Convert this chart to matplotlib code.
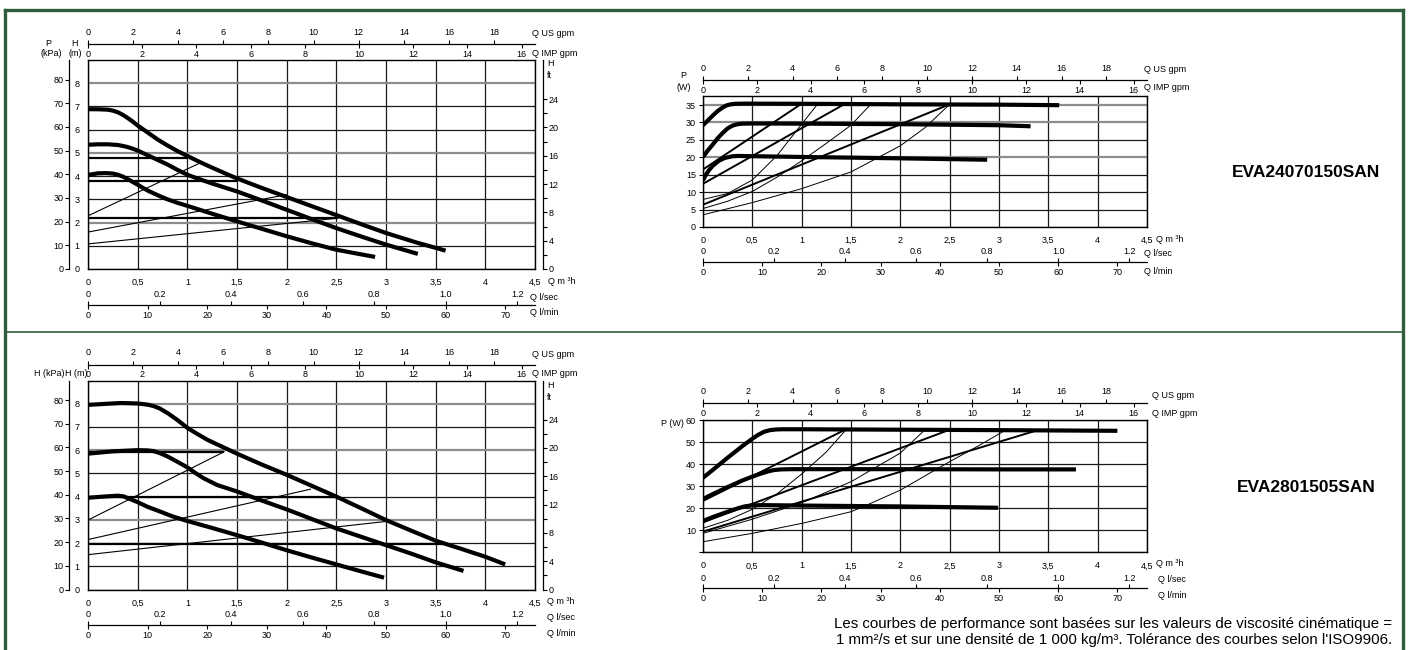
import matplotlib
matplotlib.use('Agg')
import matplotlib.pyplot as plt
from matplotlib import font_manager
from matplotlib.lines import Line2D

# pick a condensed face close to the original Helvetica Condensed
names = {f.name for f in font_manager.fontManager.ttflist}
NARROW = 'Liberation Sans Narrow' if 'Liberation Sans Narrow' in names else 'Liberation Sans'
plt.rcParams['font.family'] = [NARROW, 'DejaVu Sans']

# unit conversions from m3/h and m
US_GPM = 4.4029
IMP_GPM = 3.6662
LPS = 1 / 3.6
LPM = 1000 / 60
KPA = 9.80665
FT = 3.28084

# ---- shared scales
q_ticks = [0, 0.5, 1, 1.5, 2, 2.5, 3, 3.5, 4, 4.5]
q_labels = ['0', '0,5', '1', '1,5', '2', '2,5', '3', '3,5', '4', '4,5']
us_ticks = [0, 2, 4, 6, 8, 10, 12, 14, 16, 18]
imp_ticks = [0, 2, 4, 6, 8, 10, 12, 14, 16]
lps_ticks = [0, 0.2, 0.4, 0.6, 0.8, 1.0, 1.2]
lps_labels = ['0', '0.2', '0.4', '0.6', '0.8', '1.0', '1.2']
lpm_ticks = [0, 10, 20, 30, 40, 50, 60, 70]
h_ticks = [0, 1, 2, 3, 4, 5, 6, 7, 8]
kpa_ticks = [0, 10, 20, 30, 40, 50, 60, 70, 80]
ft_major = [0, 4, 8, 12, 16, 20, 24]
ft_minor = [2, 6, 10, 14, 18, 22]

# ---- EVA24070150SAN : head H (m) vs Q (m3/h), three speeds
h1_q = [[0, 0.1, 0.2, 0.25, 0.3, 0.35, 0.4, 0.45, 0.5, 0.6, 0.7, 0.8, 0.9, 1.0, 1.1, 1.2,
         1.3, 1.4, 1.5, 1.75, 2.0, 2.25, 2.5, 2.75, 3.0, 3.3, 3.6],
        [0, 0.1, 0.2, 0.3, 0.35, 0.4, 0.45, 0.5, 0.6, 0.7, 0.8, 0.9, 1.0, 1.1, 1.25, 1.5,
         1.75, 2.0, 2.25, 2.5, 2.75, 3.0, 3.32],
        [0, 0.1, 0.18, 0.25, 0.3, 0.35, 0.4, 0.45, 0.5, 0.55, 0.6, 0.7, 0.8, 0.9, 1.0, 1.25,
         1.5, 1.75, 2.0, 2.25, 2.5, 2.7, 2.89]]
h1_h = [[6.88, 6.88, 6.86, 6.82, 6.75, 6.64, 6.5, 6.35, 6.18, 5.88, 5.58, 5.32, 5.08, 4.87,
         4.66, 4.46, 4.27, 4.08, 3.9, 3.49, 3.1, 2.71, 2.32, 1.93, 1.55, 1.15, 0.79],
        [5.35, 5.37, 5.37, 5.34, 5.3, 5.25, 5.18, 5.1, 4.9, 4.7, 4.5, 4.27, 4.06, 3.9, 3.68,
         3.34, 2.95, 2.55, 2.15, 1.76, 1.4, 1.05, 0.65],
        [4.05, 4.12, 4.13, 4.11, 4.06, 3.98, 3.87, 3.75, 3.63, 3.5, 3.38, 3.18, 3.0, 2.85,
         2.72, 2.38, 2.05, 1.73, 1.41, 1.11, 0.83, 0.67, 0.52]]
h1_cp_h = [4.76, 3.77, 2.21]          # constant pressure settings
h1_cp_q = [1.0, 1.5, 2.52]
h1_pp_h0 = [2.29, 1.59, 1.08]         # proportional pressure settings
h1_pp_q1 = [1.11, 2.0, 2.52]
h1_pp_h1 = [4.53, 3.2, 2.19]

# ---- EVA24070150SAN : power P (W) vs Q (m3/h)
p1_q = [[0, 0.05, 0.1, 0.15, 0.2, 0.24, 0.28, 0.33, 0.43, 1.0, 2.0, 3.0, 3.61],
        [0, 0.05, 0.1, 0.15, 0.2, 0.25, 0.3, 0.35, 0.4, 0.5, 1.0, 2.0, 3.0, 3.32],
        [0, 0.03, 0.06, 0.1, 0.16, 0.22, 0.3, 0.36, 0.43, 1.0, 2.0, 2.88]]
p1_p = [[29.2, 30.6, 32.0, 33.3, 34.3, 34.9, 35.2, 35.35, 35.4, 35.35, 35.2, 35.1, 34.95],
        [20.1, 22.0, 23.7, 25.5, 27.0, 28.3, 29.1, 29.5, 29.65, 29.7, 29.65, 29.5, 29.2, 28.9],
        [13.4, 15.0, 16.3, 17.6, 19.0, 19.8, 20.3, 20.4, 20.35, 20.1, 19.7, 19.3]]
p1_mid_p0 = [16.5, 12.4, 6.4]
p1_mid_q1 = [0.99, 1.43, 2.5]
p1_mid_p1 = [35.2, 35.2, 35.2]
p1_thin_q = [[0, 0.25, 0.5, 0.75, 1.0, 1.16],
             [0, 0.25, 0.5, 0.75, 1.0, 1.25, 1.5, 1.7],
             [0, 0.5, 1.0, 1.5, 2.0, 2.25, 2.5]]
p1_thin_p = [[7.9, 9.6, 13.5, 20.5, 29.5, 35.2],
             [5.3, 7.4, 10.2, 14.3, 19.0, 24.0, 29.2, 35.2],
             [3.5, 7.0, 11.0, 15.8, 23.3, 28.5, 35.2]]

# ---- EVA2801505SAN : head H (m) vs Q (m3/h)
h2_q = [[0, 0.2, 0.33, 0.5, 0.6, 0.66, 0.72, 0.8, 0.9, 1.0, 1.1, 1.2, 1.35, 1.5, 1.75, 2.0,
         2.25, 2.5, 2.75, 3.0, 3.25, 3.5, 3.75, 4.0, 4.2],
        [0, 0.25, 0.5, 0.6, 0.66, 0.72, 0.8, 0.9, 1.0, 1.08, 1.16, 1.3, 1.5, 1.75, 2.0, 2.25,
         2.5, 2.75, 3.0, 3.25, 3.5, 3.78],
        [0, 0.15, 0.3, 0.36, 0.42, 0.5, 0.6, 0.73, 0.85, 1.0, 1.25, 1.5, 1.75, 2.0, 2.25,
         2.5, 2.75, 2.98]]
h2_h = [[7.95, 8.0, 8.03, 8.01, 7.96, 7.9, 7.8, 7.6, 7.3, 6.96, 6.7, 6.45, 6.15, 5.85, 5.38,
         4.94, 4.47, 4.0, 3.5, 2.99, 2.54, 2.1, 1.76, 1.41, 1.08],
        [5.85, 5.95, 6.0, 5.99, 5.96, 5.88, 5.73, 5.5, 5.26, 5.02, 4.8, 4.5, 4.22, 3.83, 3.45,
         3.04, 2.63, 2.27, 1.91, 1.55, 1.17, 0.8],
        [3.95, 4.0, 4.04, 4.01, 3.9, 3.76, 3.56, 3.35, 3.15, 2.95, 2.65, 2.34, 2.02, 1.69,
         1.38, 1.08, 0.78, 0.51]]
h2_cp_h = [5.93, 3.97, 1.97]
h2_cp_q = [1.37, 2.5, 3.62]
h2_pp_h0 = [2.99, 2.15, 1.5]
h2_pp_q1 = [1.37, 2.24, 3.04]
h2_pp_h1 = [5.93, 4.32, 2.95]

# ---- EVA2801505SAN : power P (W) vs Q (m3/h)
p2_q = [[0, 0.1, 0.25, 0.4, 0.5, 0.56, 0.62, 0.68, 0.74, 0.8, 1.0, 2.0, 3.0, 4.2],
        [0, 0.1, 0.25, 0.4, 0.5, 0.58, 0.66, 0.72, 0.79, 0.9, 1.0, 2.0, 3.0, 3.78],
        [0, 0.1, 0.25, 0.35, 0.42, 0.5, 0.6, 1.0, 2.0, 2.99]]
p2_p = [[33.8, 37.4, 42.9, 48.2, 51.5, 53.3, 54.7, 55.4, 55.7, 55.8, 55.8, 55.6, 55.4, 55.1],
        [24.2, 26.4, 29.6, 32.6, 34.3, 35.6, 36.7, 37.3, 37.6, 37.7, 37.7, 37.7, 37.6, 37.6],
        [14.2, 16.0, 18.4, 19.9, 20.8, 21.3, 21.4, 21.2, 20.8, 20.2]]
p2_mid_p0 = [23.3, 13.6, 9.4]
p2_mid_q1 = [1.44, 2.5, 3.4]
p2_mid_p1 = [55.6, 55.6, 55.5]
p2_thin_q = [[0, 0.25, 0.5, 0.75, 1.0, 1.25, 1.45],
             [0, 0.5, 1.0, 1.5, 2.0, 2.25],
             [0, 0.5, 1.0, 1.5, 1.7, 2.0, 2.5, 2.8, 3.07]]
p2_thin_p = [[10.9, 14.5, 19.5, 26.5, 35.5, 45.5, 55.6],
             [8.6, 15.0, 22.5, 32.0, 45.0, 55.6],
             [4.8, 8.6, 13.1, 18.4, 22.2, 28.2, 41.1, 48.5, 55.5]]

titles = ['EVA24070150SAN', 'EVA2801505SAN']
note = ("Les courbes de performance sont basées sur les valeurs de viscosité cinématique =\n"
        "1 mm²/s et sur une densité de 1 000 kg/m³. Tolérance des courbes selon l'ISO9906.")

GREEN = '#2e5c3c'
FS = 6.5
W, H = 1409, 650
fig = plt.figure(figsize=(W / 100, H / 100), dpi=100)


def box(l, t, r, b):
    return [l / W, 1 - b / H, (r - l) / W, (b - t) / H]


def ftext(x, y, s, **kw):
    kw.setdefault('fontsize', FS)
    kw.setdefault('va', 'center')
    fig.text(x / W, 1 - y / H, s, **kw)


def flow_scales(l, r, y_gpm, y_l):
    # IMP gpm below / US gpm above the same line
    g = fig.add_axes(box(l, y_gpm, r, y_gpm + 0.01))
    g.set_xlim(0, 4.5 * IMP_GPM)
    g.set_xticks(imp_ticks)
    g.set_yticks([])
    g.tick_params(axis='x', length=3, width=0.8, pad=1.2, labelsize=FS)
    for s in ['left', 'right', 'top']:
        g.spines[s].set_visible(False)
    g.spines['bottom'].set_linewidth(0.9)
    g.patch.set_alpha(0)
    u = g.twiny()
    u.set_xlim(0, 4.5 * US_GPM)
    u.set_xticks(us_ticks)
    u.tick_params(axis='x', length=3, width=0.8, pad=2.2, labelsize=FS)
    for s in u.spines.values():
        s.set_visible(False)
    # l/min below / l/sec above
    m = fig.add_axes(box(l, y_l, r, y_l + 0.01))
    m.set_xlim(0, 4.5 * LPM)
    m.set_xticks(lpm_ticks)
    m.set_yticks([])
    m.tick_params(axis='x', length=3, width=0.8, pad=1.0, labelsize=FS)
    for s in ['left', 'right', 'top']:
        m.spines[s].set_visible(False)
    m.spines['bottom'].set_linewidth(0.9)
    m.patch.set_alpha(0)
    t = m.twiny()
    t.set_xlim(0, 4.5 * LPS)
    t.set_xticks(lps_ticks)
    t.set_xticklabels(lps_labels)
    t.tick_params(axis='x', length=3, width=0.8, pad=1.0, labelsize=FS)
    for s in t.spines.values():
        s.set_visible(False)


def base_axes(l, t, r, b, ymax):
    ax = fig.add_axes(box(l, t, r, b))
    ax.set_xlim(0, 4.5)
    ax.set_ylim(0, ymax)
    ax.set_xticks(q_ticks)
    ax.set_xticklabels(q_labels)
    ax.tick_params(axis='x', length=0, pad=6.5, labelsize=FS)
    ax.grid(True, color='#1a1a1a', lw=0.9)
    ax.set_axisbelow(True)
    for s in ax.spines.values():
        s.set_linewidth(1.0)
    return ax


def shade_rows(ax, grey_rows):
    for val, gl in zip(ax.get_yticks(), ax.get_ygridlines()):
        if val in grey_rows:
            gl.set_color('#8c8c8c')
            gl.set_linewidth(1.6)


def thick(ax, q, v):
    ax.plot(q, v, color='black', lw=3.0, solid_capstyle='butt', solid_joinstyle='round')


def head_chart(t, b, qs, hs, cp_h, cp_q, pp_h0, pp_q1, pp_h1, grey_rows):
    ax = base_axes(88, t, 535, b, 9)
    ax.set_yticks(h_ticks)
    ax.tick_params(axis='y', length=0, pad=6, labelsize=FS)
    shade_rows(ax, grey_rows)
    for h, q in zip(cp_h, cp_q):
        ax.plot([0, q], [h, h], color='black', lw=1.6, solid_capstyle='butt')
    for h0, q1, h1 in zip(pp_h0, pp_q1, pp_h1):
        ax.plot([0, q1], [h0, h1], color='black', lw=0.8)
    for q, h in zip(qs, hs):
        thick(ax, q, h)
    kpa = ax.secondary_yaxis(-0.0425, functions=(lambda x: x * KPA, lambda x: x / KPA))
    kpa.set_yticks(kpa_ticks)
    kpa.tick_params(axis='y', length=3, width=0.8, pad=1, labelsize=FS)
    kpa.spines['left'].set_linewidth(0.9)
    ft = ax.secondary_yaxis(1.018, functions=(lambda x: x * FT, lambda x: x / FT))
    ft.set_yticks(ft_major)
    ft.set_yticks(ft_minor, minor=True)
    ft.tick_params(axis='y', which='both', length=3, width=0.8, pad=1, labelsize=FS)
    ft.spines['right'].set_linewidth(0.9)
    return ax


def power_chart(t, b, ymax, yticks, ylabels, qs, ps, mid_p0, mid_q1, mid_p1,
                thin_q, thin_p, grey_rows):
    ax = base_axes(703, t, 1147, b, ymax)
    ax.set_yticks(yticks)
    ax.set_yticklabels(ylabels)
    ax.tick_params(axis='y', length=3, width=0.8, pad=2, labelsize=FS)
    shade_rows(ax, grey_rows)
    for q, p in zip(thin_q, thin_p):
        ax.plot(q, p, color='black', lw=0.7)
    for p0, q1, p1 in zip(mid_p0, mid_q1, mid_p1):
        ax.plot([0, q1], [p0, p1], color='black', lw=1.4)
    for q, p in zip(qs, ps):
        thick(ax, q, p)
    return ax


# ---------------- top-left: head, EVA24070150SAN
head_chart(60, 269, h1_q, h1_h, h1_cp_h, h1_cp_q, h1_pp_h0, h1_pp_q1, h1_pp_h1, [2, 5, 8])
flow_scales(88, 535, 44, 305)
ftext(48, 43, 'P', ha='center')
ftext(51, 53, '(kPa)', ha='center')
ftext(75, 43, 'H', ha='center')
ftext(75, 53, '(m)', ha='center')
ftext(547, 64, 'H', ha='left')
ftext(547, 76, 'ft', ha='left')
ftext(532, 34, 'Q US gpm', ha='left')
ftext(532, 53, 'Q IMP gpm', ha='left')
ftext(548, 282, 'Q m ³h', ha='left')
ftext(530, 297, 'Q l/sec', ha='left')
ftext(530, 313, 'Q l/min', ha='left')

# ---------------- bottom-left: head, EVA2801505SAN
head_chart(380.5, 589.5, h2_q, h2_h, h2_cp_h, h2_cp_q, h2_pp_h0, h2_pp_q1, h2_pp_h1, [3, 6, 8])
flow_scales(88, 535, 364.5, 625)
ftext(49, 373, 'H (kPa)', ha='center')
ftext(76, 373, 'H (m)', ha='center')
ftext(547, 385, 'H', ha='left')
ftext(547, 397, 'ft', ha='left')
ftext(532, 355, 'Q US gpm', ha='left')
ftext(532, 373, 'Q IMP gpm', ha='left')
ftext(547, 602, 'Q m ³h', ha='left')
ftext(547, 617, 'Q l/sec', ha='left')
ftext(547, 633, 'Q l/min', ha='left')

# ---------------- top-right: power, EVA24070150SAN
power_chart(96.3, 227, 37.5, [0, 5, 10, 15, 20, 25, 30, 35],
            ['0', '5', '10', '15', '20', '25', '30', '35'],
            p1_q, p1_p, p1_mid_p0, p1_mid_q1, p1_mid_p1, p1_thin_q, p1_thin_p, [20, 30, 35])
flow_scales(703, 1147, 80, 262)
ftext(683, 76, 'P', ha='center')
ftext(684, 87, '(W)', ha='center')
ftext(1144, 69, 'Q US gpm', ha='left')
ftext(1144, 88, 'Q IMP gpm', ha='left')
ftext(1156, 240, 'Q m ³h', ha='left')
ftext(1144, 253, 'Q l/sec', ha='left')
ftext(1144, 271, 'Q l/min', ha='left')

# ---------------- bottom-right: power, EVA2801505SAN
power_chart(420, 552.3, 60, [0, 10, 20, 30, 40, 50, 60],
            ['', '10', '20', '30', '40', '50', '60'],
            p2_q, p2_p, p2_mid_p0, p2_mid_q1, p2_mid_p1, p2_thin_q, p2_thin_p, [])
flow_scales(703, 1147, 403.3, 588.3)
ftext(672, 423, 'P (W)', ha='center')
ftext(1152, 395, 'Q US gpm', ha='left')
ftext(1152, 413, 'Q IMP gpm', ha='left')
ftext(1156, 563, 'Q m ³h', ha='left')
ftext(1158, 579, 'Q l/sec', ha='left')
ftext(1158, 595, 'Q l/min', ha='left')

# ---------------- model names and note
ftext(1306, 172, titles[0], ha='center', fontsize=12.5, fontweight='bold')
ftext(1306, 487, titles[1], ha='center', fontsize=12.5, fontweight='bold')
ftext(1392, 632, note, ha='right', multialignment='right', fontsize=10.8, linespacing=1.2,
      family=['Liberation Sans', 'DejaVu Sans'])

# ---------------- green frame
for xs, ys, lw in [([4.5, 1402.5], [10, 10], 2.4),
                   ([4.5, 4.5], [10, 650], 2.4),
                   ([1402.5, 1402.5], [10, 650], 2.4),
                   ([4.5, 1402.5], [332, 332], 1.2)]:
    fig.add_artist(Line2D([x / W for x in xs], [1 - y / H for y in ys],
                          transform=fig.transFigure, color=GREEN, lw=lw))

fig.savefig('out.png', dpi=100)
